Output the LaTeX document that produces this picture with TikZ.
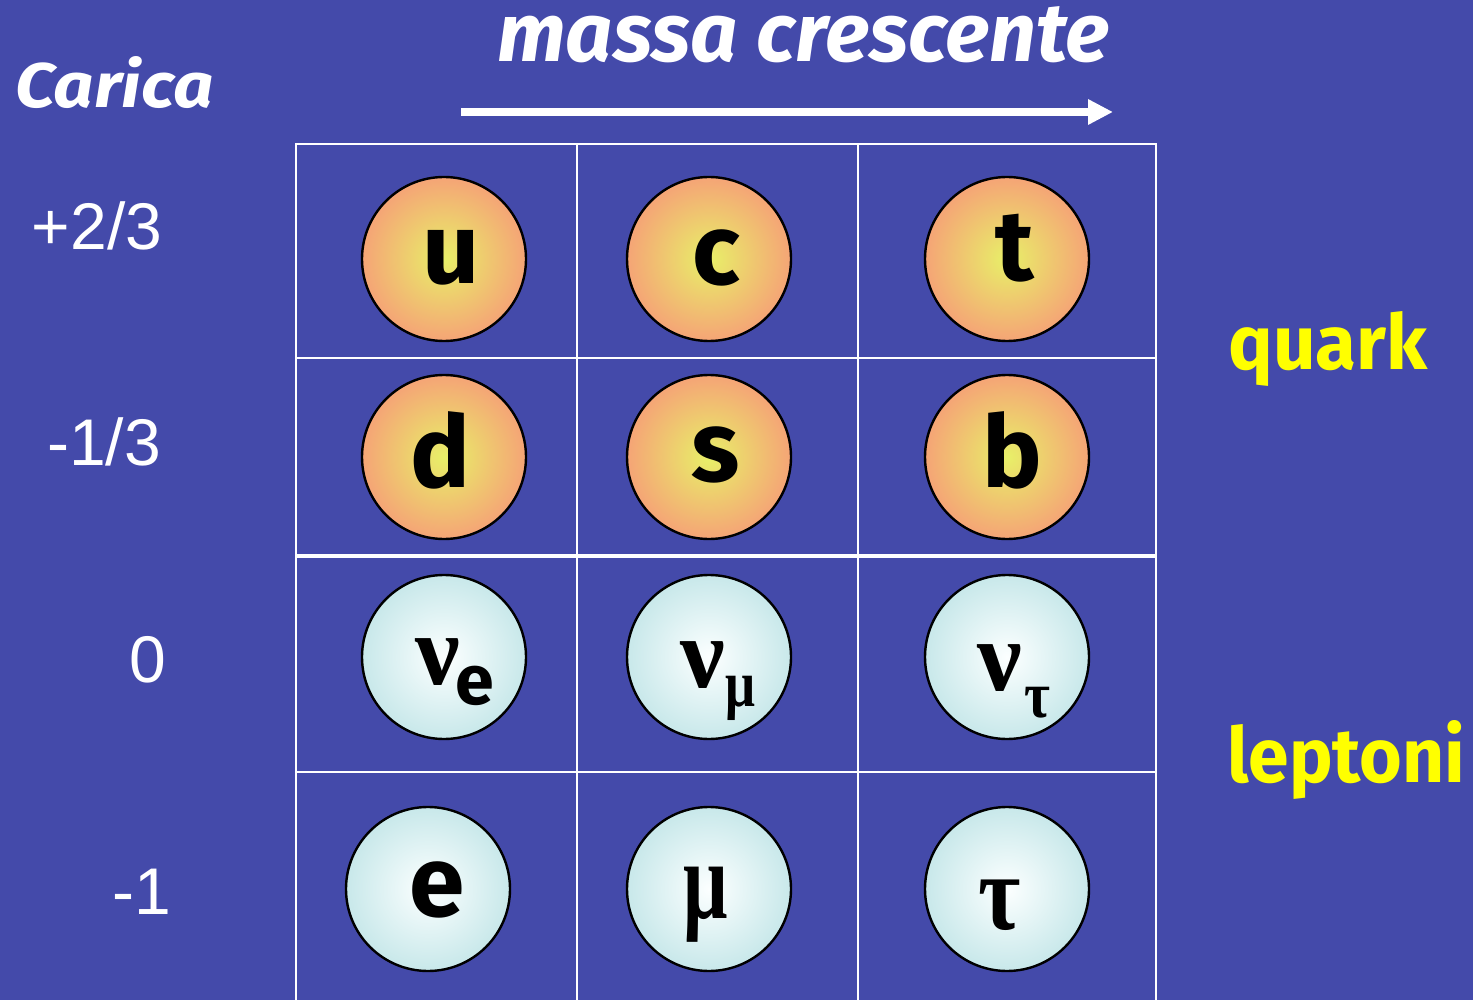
\documentclass[tikz,border=0pt]{standalone}
\usepackage{fontspec}
\setmainfont{Liberation Sans}
\newfontfamily\comic{Fira Sans}
\newfontfamily\greek{Liberation Serif}
\usetikzlibrary{arrows.meta}
\definecolor{bg}{RGB}{68,74,170}
\definecolor{qin}{RGB}{232,240,104}
\definecolor{qout}{RGB}{245,164,118}
\definecolor{lin}{RGB}{252,255,255}
\definecolor{lout}{RGB}{200,232,234}
\definecolor{yel}{RGB}{255,255,0}
\begin{document}
\begin{tikzpicture}[x=0.5pt,y=-0.5pt,
  grid/.style={draw=white,line width=1.2pt},
  thickgrid/.style={draw=white,line width=2.4pt},
  quarkball/.style={circle,draw=black,line width=1.2pt,minimum size=82pt,inner sep=0pt,inner color=qin,outer color=qout},
  leptonball/.style={circle,draw=black,line width=1.2pt,minimum size=82pt,inner sep=0pt,inner color=lin,outer color=lout},
  lett/.style={font=\comic\bfseries\fontsize{50}{50}\selectfont,text=black,inner sep=0pt},
  gr/.style={font=\greek\bfseries\fontsize{50}{50}\selectfont,text=black,inner sep=0pt},
  grsub/.style={font=\greek\bfseries\fontsize{33}{33}\selectfont,text=black,inner sep=0pt},
  charge/.style={font=\fontsize{33}{33}\selectfont,text=white,inner sep=0pt,anchor=base},
  title/.style={text=white,inner sep=0pt,anchor=base west},
  label/.style={text=yel,inner sep=0pt,anchor=base west}]
\useasboundingbox (0,0) rectangle (1473,1000);
\fill[bg] (0,0) rectangle (1473,1000);
% grid
\draw[grid] (296,1005) -- (296,144) -- (1156,144) -- (1156,1005);
\draw[grid] (577,144) -- (577,1005);
\draw[grid] (858,144) -- (858,1005);
\draw[grid] (296,358) -- (1156,358);
\draw[thickgrid] (296,556) -- (1156,556);
\draw[grid] (296,772) -- (1156,772);
% titles
\node[title] (carica) at (15,108) {\resizebox{99pt}{25.5pt}{\comic\bfseries\itshape Carica}};
\node[title] (massa) at (497,62) {\resizebox{306pt}{27.5pt}{\comic\bfseries\itshape massa crescente}};
\coordinate (arrA) at (461,112);
\coordinate (arrB) at (1113,112);
\draw[white,line width=4pt,-{Triangle[length=12.5pt,width=12pt]}] (arrA) -- (arrB);
% charges
\node[charge] (c1) at (97,250) {+2/3};
\node[charge] (c2) at (104,466) {-1/3};
\node[charge] (c3) at (148,682) {0};
\node[charge] (c4) at (142,914) {-1};
% side labels
\node[label] (quark) at (1228,370) {\resizebox{99.5pt}{29pt}{\comic\bfseries quark}};
\node[label] (leptoni) at (1227,782) {\resizebox{119pt}{31pt}{\comic\bfseries leptoni}};
% quarks
\node[quarkball] (bu) at (444,259) {};
\node[quarkball] (bc) at (709,259) {};
\node[quarkball] (bt) at (1007,259) {};
\node[quarkball] (bd) at (444,457) {};
\node[quarkball] (bs) at (709,457) {};
\node[quarkball] (bb) at (1007,457) {};
\node[lett] (tu) at (451,258) {u};
\node[lett] (tc) at (716,258) {c};
\node[lett] (tt) at (1015,248) {t};
\node[lett] (td) at (440,450) {d};
\node[lett] (ts) at (716,455) {s};
\node[lett] (tb) at (1012,450) {b};
% leptons
\node[leptonball] (bne) at (444,657) {};
\node[leptonball] (bnm) at (709,657) {};
\node[leptonball] (bnt) at (1007,657) {};
\node[leptonball] (be) at (428,889) {};
\node[leptonball] (bm) at (709,889) {};
\node[leptonball] (bta) at (1007,889) {};
\node[gr] (tne) at (438,662) {ν};
\node[lett,font=\comic\bfseries\fontsize{35}{35}\selectfont] (tse) at (475,686) {e};
\node[gr] (tnm) at (703,665) {ν};
\node[grsub] (tsm) at (740,698) {\scalebox{0.8}[1]{μ}};
\node[gr] (tnt) at (1000,668) {ν};
\node[grsub] (tst) at (1037,703) {\scalebox{0.85}[1]{τ}};
\node[lett] (te) at (437,890) {e};
\node[grsub,font=\greek\bfseries\fontsize{56}{56}\selectfont] (tm) at (706,905) {\scalebox{0.7}[1]{μ}};
\node[grsub,font=\greek\bfseries\fontsize{54}{54}\selectfont] (tta) at (1000,905) {\scalebox{0.85}[1]{τ}};
\end{tikzpicture}
\end{document}
